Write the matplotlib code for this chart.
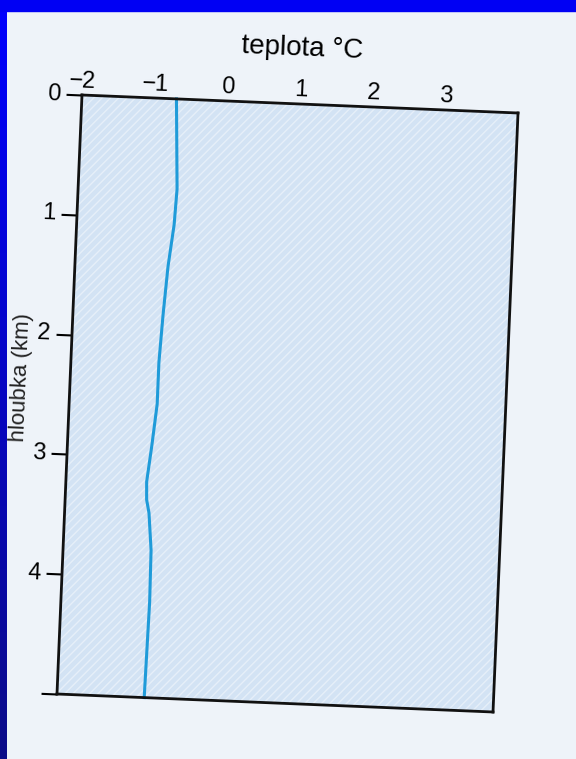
import numpy as np
import matplotlib
matplotlib.use('Agg')
import matplotlib.pyplot as plt
from matplotlib.transforms import Affine2D
from matplotlib.patches import Rectangle
from matplotlib.colors import LinearSegmentedColormap
import mpl_toolkits.axisartist.floating_axes as floating_axes
from mpl_toolkits.axisartist.grid_finder import FixedLocator, DictFormatter

# profil teploty odecteny ze skenu
hloubka = [0, 0.75, 1.05, 1.4, 1.8, 2.2, 2.55, 2.9, 3.2, 3.35, 3.46, 3.77, 4.2, 4.6, 5.0]
teplota = [-0.70, -0.64, -0.66, -0.72, -0.76, -0.79, -0.79, -0.84, -0.89, -0.88,
           -0.84, -0.79, -0.78, -0.79, -0.80]

xticks = [-2, -1, 0, 1, 2, 3]
xlabels = ['\u22122', '\u22121', '0', '1', '2', '3']
yticks = [0, 1, 2, 3, 4, 5]
ylabels = ['0', '1', '2', '3', '4', '']

plt.rcParams['font.family'] = 'Liberation Sans'
plt.rcParams['hatch.linewidth'] = 1.0

W, H = 576, 759
fig = plt.figure(figsize=(W / 100, H / 100), dpi=100, facecolor='#eef3f9')

#==============================================================
# sken je pootoceny o ~2.4 stupne: (teplota, -hloubka) -> pixely
tr = Affine2D(np.array([[72.67, 5.0, 227.33],
                        [-3.0, 119.8, 658.0],
                        [0.0, 0.0, 1.0]]))

yneg = [-v for v in yticks]
gh = floating_axes.GridHelperCurveLinear(
    tr, extremes=(-2, 4, -5, 0),
    grid_locator1=FixedLocator(xticks),
    grid_locator2=FixedLocator(yneg),
    tick_formatter1=DictFormatter(dict(zip(xticks, xlabels))),
    tick_formatter2=DictFormatter(dict(zip(yneg, ylabels))))

ax = fig.add_axes([0, 0, 1, 1], axes_class=floating_axes.FloatingAxes, grid_helper=gh)
ax.set_xlim(0, W)
ax.set_ylim(0, H)

ax.patch.set_facecolor('#d3e3f4')
ax.patch.set_edgecolor('#e6eff9')
ax.patch.set_linewidth(0)
ax.patch.set_hatch('////')

for side in ['left', 'right', 'top', 'bottom']:
    ax.axis[side].line.set_linewidth(2.0)
    ax.axis[side].line.set_color('#111111')

for side in ['right', 'bottom']:
    ax.axis[side].major_ticks.set_visible(False)
    ax.axis[side].major_ticklabels.set_visible(False)

ax.axis['top'].major_ticks.set_visible(False)
ax.axis['top'].major_ticklabels.set_visible(True)
ax.axis['top'].major_ticklabels.set_fontsize(17)
ax.axis['top'].major_ticklabels.set_pad(5.5)
ax.axis['top'].label.set_text('teplota \u00b0C')
ax.axis['top'].label.set_visible(True)
ax.axis['top'].label.set_fontsize(20)
ax.axis['top'].label.set_pad(13)

ax.axis['left'].major_ticks.set_tick_out(True)
ax.axis['left'].major_ticks.set_ticksize(11.5)
ax.axis['left'].major_ticks.set_markeredgewidth(1.5)
ax.axis['left'].major_ticklabels.set_visible(True)
ax.axis['left'].major_ticklabels.set_fontsize(17)
ax.axis['left'].major_ticklabels.set_pad(4)

aux = ax.get_aux_axes(Affine2D().scale(1, -1) + tr)
aux.plot(teplota, hloubka, color='#1f9bd9', lw=2.2)

# popisek osy y vlevo u modreho okraje
fig.text(21 / W, 1 - 377 / H, 'hloubka (km)', rotation=87.6, ha='center', va='center',
         fontsize=16, color='#222222', zorder=3)

#==============================================================
# modry okraj snimku
grad = fig.add_axes([0, 0, 7 / W, 1])
grad.imshow(np.linspace(0, 1, 256).reshape(-1, 1), aspect='auto', origin='lower',
            cmap=LinearSegmentedColormap.from_list('okraj', ['#0c0c88', '#0000ff']))
grad.axis('off')
grad.set_zorder(10)
fig.add_artist(Rectangle((0, 1 - 11 / H), 1, 11 / H, transform=fig.transFigure,
                         color='#0000f4', zorder=11))

plt.savefig('out.png', dpi=100, facecolor=fig.get_facecolor())
